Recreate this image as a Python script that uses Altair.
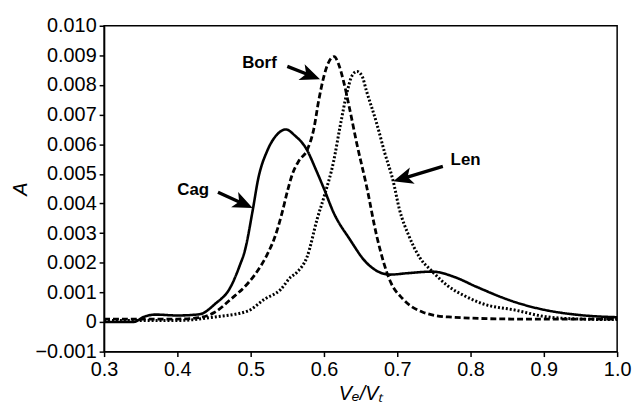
import altair as alt
import pandas as pd

# ---- data ----
cag_x = [0.30, 0.34, 0.355, 0.37, 0.40, 0.43, 0.451, 0.473, 0.485, 0.492, 0.503, 0.510, 0.523, 0.535,
         0.548, 0.560, 0.577, 0.588, 0.600, 0.613, 0.635, 0.658, 0.690, 0.715, 0.748, 0.780, 0.807,
         0.861, 0.897, 0.951, 1.0]
cag_y = [0.0, 0.0, 0.00018, 0.00025, 0.00022, 0.00026, 0.0006, 0.0012, 0.0019, 0.0024, 0.0038, 0.0048,
         0.0058, 0.0063, 0.0065, 0.0063, 0.0058, 0.0052, 0.0045, 0.0037, 0.0028, 0.0020, 0.0016,
         0.00165, 0.0017, 0.0015, 0.0012, 0.00067, 0.00043, 0.00023, 0.00016]

borf_x = [0.30, 0.40, 0.43, 0.451, 0.473, 0.496, 0.514, 0.525, 0.532, 0.543, 0.550, 0.557, 0.566,
          0.577, 0.586, 0.593, 0.600, 0.607, 0.614, 0.620, 0.627, 0.635, 0.645, 0.658, 0.672, 0.690,
          0.708, 0.735, 0.770, 0.861, 1.0]
borf_y = [0.0001, 0.0001, 0.00015, 0.00033, 0.00077, 0.0013, 0.0019, 0.0024, 0.0028, 0.0037, 0.0044,
          0.0050, 0.00545, 0.0058, 0.0065, 0.0075, 0.0083, 0.0088, 0.00896, 0.0087, 0.0081, 0.0072,
          0.0060, 0.0046, 0.0029, 0.0014, 0.00077, 0.00033, 0.00017, 0.0001, 0.0001]

len_x = [0.30, 0.40, 0.451, 0.496, 0.519, 0.541, 0.554, 0.564, 0.577, 0.591, 0.601, 0.613, 0.622,
         0.631, 0.638, 0.645, 0.652, 0.658, 0.672, 0.683, 0.694, 0.703, 0.716, 0.730, 0.748, 0.770,
         0.793, 0.816, 0.861, 0.905, 0.951, 1.0]
len_y = [0.00005, 0.00005, 0.00017, 0.00037, 0.00077, 0.0011, 0.0015, 0.0017, 0.0022, 0.0035, 0.0043,
         0.0054, 0.0066, 0.0077, 0.0083, 0.00846, 0.0083, 0.0078, 0.0067, 0.0057, 0.0048, 0.0038,
         0.0029, 0.0022, 0.0017, 0.0012, 0.00087, 0.00062, 0.0004, 0.00017, 0.0001, 0.00008]

x_ticks = [0.3, 0.4, 0.5, 0.6, 0.7, 0.8, 0.9, 1.0]
y_ticks = [-0.001, 0.0, 0.001, 0.002, 0.003, 0.004, 0.005, 0.006, 0.007, 0.008, 0.009, 0.010]

# annotations (data coordinates)
ann_label = ["Borf", "Cag", "Len"]
ann_label_x = [0.512, 0.4216, 0.7932]
ann_label_y = [0.00873, 0.00445, 0.00545]
ann_tail_x = [0.550, 0.4554, 0.7622]
ann_tail_y = [0.00863, 0.00438, 0.00525]
ann_neck_x = [0.5781, 0.4868, 0.7115]
ann_neck_y = [0.008355, 0.004027, 0.004873]
ann_tip_x = [0.5946, 0.5027, 0.6946]
ann_tip_y = [0.00819, 0.00385, 0.00475]
ann_angle = [21.5, 24.6, 163.3]

rows = []
for name, xs, ys in [("Cag", cag_x, cag_y), ("Borf", borf_x, borf_y), ("Len", len_x, len_y)]:
    for xv, yv in zip(xs, ys):
        rows.append({"series": name, "x": xv, "y": yv})
series_df = pd.DataFrame(rows)

ann_df = pd.DataFrame({
    "label": ann_label, "lx": ann_label_x, "ly": ann_label_y,
    "tx": ann_tail_x, "ty": ann_tail_y, "nx": ann_neck_x, "ny": ann_neck_y,
    "px": ann_tip_x, "py": ann_tip_y, "angle": ann_angle,
})

FONT = "Liberation Sans"
x_scale = alt.Scale(domain=[0.3, 1.0], nice=False, zero=False)
y_scale = alt.Scale(domain=[-0.001, 0.010], nice=False, zero=False)

x_axis = alt.Axis(values=x_ticks, format=".1f", title="Vₑ/Vₜ", grid=False,
                  tickSize=5, labelPadding=3, titlePadding=4, titleFontStyle="italic",
                  titleFontWeight="normal", labelFlush=False, labelOverlap=False)
y_axis = alt.Axis(values=y_ticks, grid=False, tickSize=5, labelPadding=3,
                  labelExpr="abs(datum.value) < 1e-9 ? '0' : format(datum.value, '.3f')",
                  labelFlush=False, labelOverlap=False,
                  title="A", titleFontStyle="italic", titleFontWeight="normal", titlePadding=5)

lines = alt.Chart(series_df).mark_line(color="black", interpolate="monotone").encode(
    x=alt.X("x:Q", scale=x_scale, axis=x_axis),
    y=alt.Y("y:Q", scale=y_scale, axis=y_axis),
    detail="series:N",
    strokeDash=alt.StrokeDash("series:N", scale=alt.Scale(domain=["Cag", "Borf", "Len"],
                              range=[[1, 0], [6, 3], [2, 2]]), legend=None),
    strokeWidth=alt.StrokeWidth("series:N", scale=alt.Scale(domain=["Cag", "Borf", "Len"],
                                range=[2.6, 3.0, 2.2]), legend=None),
)

labels = alt.Chart(ann_df).mark_text(font=FONT, fontSize=17, fontWeight="bold", color="black").encode(
    x=alt.X("lx:Q", scale=x_scale, axis=x_axis), y=alt.Y("ly:Q", scale=y_scale, axis=y_axis),
    text="label:N")

shafts = alt.Chart(ann_df).mark_rule(color="black", strokeWidth=3.4).encode(
    x=alt.X("tx:Q", scale=x_scale, axis=x_axis), y=alt.Y("ty:Q", scale=y_scale, axis=y_axis),
    x2="nx:Q", y2="ny:Q")

heads = alt.Chart(ann_df).mark_point(
    filled=True, color="black", opacity=1, size=400,
    shape="M 0 0 L -2 -0.85 L -1.5 0 L -2 0.85 Z").encode(
    x=alt.X("px:Q", scale=x_scale, axis=x_axis), y=alt.Y("py:Q", scale=y_scale, axis=y_axis),
    angle=alt.Angle("angle:Q", scale=None))

chart = alt.layer(lines, shafts, heads, labels).properties(
    width=518, height=329,
    autosize=alt.AutoSizeParams(type="none"),
    padding={"left": 97, "top": 16, "right": 15, "bottom": 55},
).configure_view(stroke="black", strokeWidth=1.5).configure_axis(
    domainColor="black", domainWidth=1.5, tickColor="black", tickWidth=1.5,
    labelFont=FONT, labelFontSize=20, labelColor="black", labelOverlap=False,
    titleFont=FONT, titleFontSize=20, titleColor="black",
)

chart.save("out.html", embed_options={"renderer": "svg", "actions": False})
